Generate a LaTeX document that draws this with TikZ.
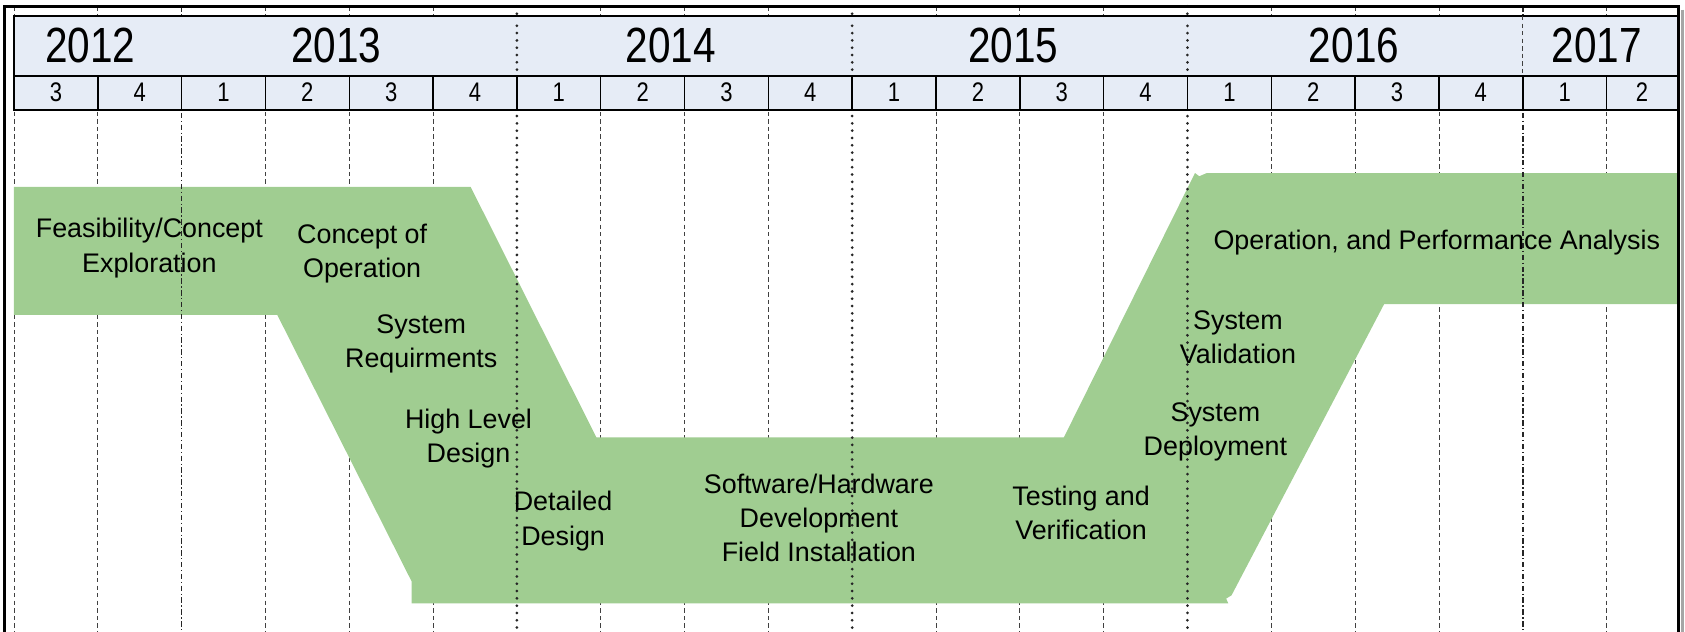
\documentclass[tikz,border=0pt]{standalone}
\usepackage{fontspec}
\setmainfont{Liberation Sans}
\newfontfamily\narrowfont[FakeStretch=0.82]{Liberation Sans}
\definecolor{vgreen}{RGB}{160,205,145}
\definecolor{hdrblue}{RGB}{230,236,246}

\begin{document}
\begin{tikzpicture}[x=0.5pt, y=-0.5pt]
\tikzset{yearlab/.style={inner sep=0pt, font=\narrowfont\fontsize{23}{25}\selectfont},
  qlab/.style={inner sep=0pt, font=\narrowfont\fontsize{12.5}{13}\selectfont},
  phase/.style={inner sep=0pt, align=center, font=\fontsize{12.5}{16}\selectfont},
  qline/.style={black!75, line width=0.4pt, dash pattern=on 2pt off 1.5pt},
  yline/.style={black!85, line width=1.4pt, line cap=round, dash pattern=on 0pt off 3.4pt},
  ydash/.style={black!85, line width=0.8pt, dash pattern=on 2.5pt off 1.2pt on 0.6pt off 1.2pt}}
\useasboundingbox (0,0) rectangle (1568,588);
% quarter grid
\draw[qline] (13,6) -- (13,588);
\draw[qline] (91,6) -- (91,588);
\draw[qline] (247,6) -- (247,588);
\draw[qline] (325,6) -- (325,588);
\draw[qline] (403,6) -- (403,588);
\draw[qline] (559,6) -- (559,588);
\draw[qline] (637,6) -- (637,588);
\draw[qline] (715,6) -- (715,588);
\draw[qline] (871,6) -- (871,588);
\draw[qline] (949,6) -- (949,588);
\draw[qline] (1027,6) -- (1027,588);
\draw[qline] (1183,6) -- (1183,588);
\draw[qline] (1261,6) -- (1261,588);
\draw[qline] (1339,6) -- (1339,588);
\draw[qline] (1495,6) -- (1495,588);
% the V band
\fill[vgreen] (13,174) -- (438,174) -- (555,407) -- (990,407) -- (1112,161) -- (1116,164)
  -- (1123,161) -- (1562,161) -- (1562,283) -- (1288,283) -- (1146,554) -- (1141,557)
  -- (1143,561.5) -- (383,561.5) -- (383,541) -- (258,293) -- (13,293) -- cycle;
% year grid
\draw[ydash] (169,6) -- (169,588);
\draw[yline] (481,6) -- (481,588);
\draw[yline] (793,6) -- (793,588);
\draw[yline] (1105,6) -- (1105,588);
\draw[ydash] (1417,6) -- (1417,588);
% header
\draw[fill=hdrblue, line width=0.9pt] (13,15) rectangle (1562,102);
\draw[line width=0.9pt] (13,70.5) -- (1562,70.5);
\draw[yline] (481,24) -- (481,66);
\draw[yline] (793,24) -- (793,66);
\draw[yline] (1105,24) -- (1105,66);
\draw[qline] (1417,15) -- (1417,70.5);
\draw[line width=0.7pt] (91,70.5) -- (91,102);
\draw[line width=0.7pt] (169,70.5) -- (169,102);
\draw[line width=0.7pt] (247,70.5) -- (247,102);
\draw[line width=0.7pt] (325,70.5) -- (325,102);
\draw[line width=0.7pt] (403,70.5) -- (403,102);
\draw[line width=0.7pt] (481,70.5) -- (481,102);
\draw[line width=0.7pt] (559,70.5) -- (559,102);
\draw[line width=0.7pt] (637,70.5) -- (637,102);
\draw[line width=0.7pt] (715,70.5) -- (715,102);
\draw[line width=0.7pt] (793,70.5) -- (793,102);
\draw[line width=0.7pt] (871,70.5) -- (871,102);
\draw[line width=0.7pt] (949,70.5) -- (949,102);
\draw[line width=0.7pt] (1027,70.5) -- (1027,102);
\draw[line width=0.7pt] (1105,70.5) -- (1105,102);
\draw[line width=0.7pt] (1183,70.5) -- (1183,102);
\draw[line width=0.7pt] (1261,70.5) -- (1261,102);
\draw[line width=0.7pt] (1339,70.5) -- (1339,102);
\draw[line width=0.7pt] (1417,70.5) -- (1417,102);
\draw[line width=0.7pt] (1495,70.5) -- (1495,102);
% frame
\draw[black!35, line width=1.5pt] (1566,9) -- (1566,588);
\draw[line width=1.6pt] (4,588) -- (4,6) -- (1562,6) -- (1562,588);
\node[yearlab] (Y2012) at (84,42) {2012};
\node[yearlab] (Y2013) at (313,42) {2013};
\node[yearlab] (Y2014) at (624,42) {2014};
\node[yearlab] (Y2015) at (943,42) {2015};
\node[yearlab] (Y2016) at (1260,42) {2016};
\node[yearlab] (Y2017) at (1486,42) {2017};
\node[qlab] (Q1) at (52,86) {3};
\node[qlab] (Q2) at (130,86) {4};
\node[qlab] (Q3) at (208,86) {1};
\node[qlab] (Q4) at (286,86) {2};
\node[qlab] (Q5) at (364,86) {3};
\node[qlab] (Q6) at (442,86) {4};
\node[qlab] (Q7) at (520,86) {1};
\node[qlab] (Q8) at (598,86) {2};
\node[qlab] (Q9) at (676,86) {3};
\node[qlab] (Q10) at (754,86) {4};
\node[qlab] (Q11) at (832,86) {1};
\node[qlab] (Q12) at (910,86) {2};
\node[qlab] (Q13) at (988,86) {3};
\node[qlab] (Q14) at (1066,86) {4};
\node[qlab] (Q15) at (1144,86) {1};
\node[qlab] (Q16) at (1222,86) {2};
\node[qlab] (Q17) at (1300,86) {3};
\node[qlab] (Q18) at (1378,86) {4};
\node[qlab] (Q19) at (1456,86) {1};
\node[qlab] (Q20) at (1528,86) {2};
\node[phase] (feas) at (139,231) {Feasibility/Concept\\Exploration};
\node[phase] (conops) at (337,236) {Concept of\\Operation};
\node[phase] (sysreq) at (392,320) {System\\Requirments};
\node[phase] (hld) at (436,408) {High Level\\Design};
\node[phase] (dd) at (524,485) {Detailed\\Design};
\node[phase] (swhw) at (762,482) {Software/Hardware\\Development\\Field Installation};
\node[phase] (test) at (1006,477) {Testing and\\Verification};
\node[phase] (deploy) at (1131,402) {System\\Deployment};
\node[phase] (valid) at (1152,314) {System\\Validation};
\node[phase] (oper) at (1337,226) {Operation, and Performance Analysis};
\end{tikzpicture}
\end{document}
